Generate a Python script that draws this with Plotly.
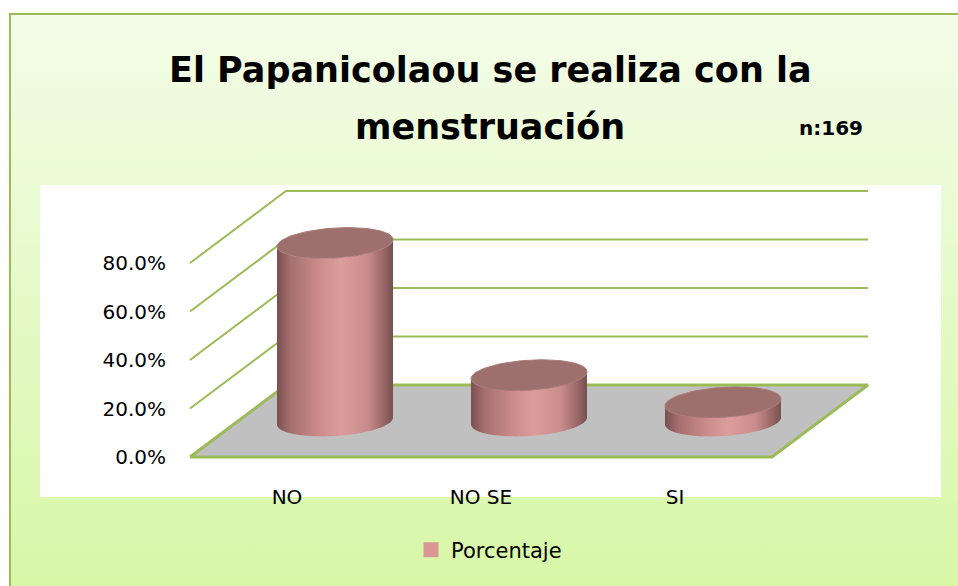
import numpy as np
import plotly.graph_objects as go

# ---- data ----
categories = ["NO", "NO SE", "SI"]
porcentaje = [73.4, 18.9, 7.7]
y_ticks = [0, 20, 40, 60, 80]
y_tick_text = ["0.0%", "20.0%", "40.0%", "60.0%", "80.0%"]
title_line1 = "El Papanicolaou se realiza con la"
title_line2 = "menstruación"
sample_note = "n:169"
series_name = "Porcentaje"

# ---- geometry (screen pixel <-> axis mapping) ----
OFF = 0
W, H = 958, 586
PXU = 194.0      # pixels per category unit
X0PX = 190.0     # screen pixel of x=-0.5 on front plane
PXP = 2.425      # pixels per percent
Y0PX = 457.0     # screen pixel of 0% on front plane


def xr(px):
    return (px - X0PX) / PXU - 0.5


def yr(py):
    return (Y0PX - py) / PXP


def px_paper(px):
    return (px - OFF) / W


def py_paper(py):
    return 1 - (py - OFF) / H


DX = 96 / PXU    # depth offset in x units
DY = 72 / PXP    # depth offset in percent units
GREEN = "#9bbb59"
FONT = "DejaVu Sans"

fig = go.Figure()

# background frame with vertical gradient
fig.add_trace(go.Scatter(
    x=[xr(10), xr(990), xr(990), xr(10), xr(10)],
    y=[yr(14), yr(14), yr(620), yr(620), yr(14)],
    fill="toself", mode="none",
    fillgradient=dict(type="vertical",
                      colorscale=[[0, "#d6f7a3"], [1, "#f3fce8"]]),
    hoverinfo="skip", showlegend=False))
# frame border (top and left visible)
fig.add_trace(go.Scatter(
    x=[xr(10), xr(10), xr(990)],
    y=[yr(620), yr(14), yr(14)],
    mode="lines", line=dict(color=GREEN, width=2),
    hoverinfo="skip", showlegend=False))

# white plot area
fig.add_trace(go.Scatter(
    x=[xr(40), xr(941), xr(941), xr(40), xr(40)],
    y=[yr(185), yr(185), yr(497), yr(497), yr(185)],
    fill="toself", mode="none", fillcolor="white",
    hoverinfo="skip", showlegend=False))

# gridlines: left wall diagonals + back wall horizontals
n = len(categories)
gx, gy = [], []
for v in y_ticks[1:]:
    gx += [-0.5, -0.5 + DX, n - 0.5 + DX, None]
    gy += [v, v + DY, v + DY, None]
fig.add_trace(go.Scatter(x=gx, y=gy, mode="lines",
                         line=dict(color=GREEN, width=2),
                         hoverinfo="skip", showlegend=False))

# floor
fig.add_trace(go.Scatter(
    x=[-0.5, n - 0.5, n - 0.5 + DX, -0.5 + DX, -0.5],
    y=[0, 0, DY, DY, 0],
    fill="toself", mode="lines", fillcolor="#c0c0c0",
    line=dict(color=GREEN, width=3),
    hoverinfo="skip", showlegend=False))

# cylinders
A = 58 / PXU
B = 15 / PXP
K = 3.5 / PXP
body_scale = [[0, "#7a5050"], [0.12, "#a76f6f"], [0.35, "#c98a8a"],
              [0.55, "#dd9d9d"], [0.78, "#c98b8b"], [0.92, "#9a6666"],
              [1, "#765050"]]
for i, v in enumerate(porcentaje):
    xc = i + DX / 2
    yb = DY / 2
    yt = v + DY / 2
    t_low = np.linspace(np.pi, 2 * np.pi, 60)
    bx = xc + A * np.cos(t_low)
    by = yb + B * np.sin(t_low) + K * np.cos(t_low)
    t_back = np.linspace(2 * np.pi, np.pi, 60)
    tx = xc + A * np.cos(t_back)
    ty = yt + B * np.sin(t_back) + K * np.cos(t_back)
    px_ = np.concatenate([bx, tx, bx[:1]])
    py_ = np.concatenate([by, ty, by[:1]])
    fig.add_trace(go.Scatter(
        x=px_, y=py_, fill="toself", mode="none",
        fillgradient=dict(type="horizontal", colorscale=body_scale),
        hoverinfo="skip", showlegend=False))
    t = np.linspace(0, 2 * np.pi, 120)
    fig.add_trace(go.Scatter(
        x=xc + A * np.cos(t), y=yt + B * np.sin(t) + K * np.cos(t),
        fill="toself", mode="lines", fillcolor="#9d6f6d",
        line=dict(width=1, color="#a97a78"),
        hoverinfo="skip", showlegend=False))

# legend entry
fig.add_trace(go.Scatter(
    x=[None], y=[None], mode="markers", name=series_name,
    marker=dict(symbol="square", size=15, color="#d99694")))

# titles
fig.add_annotation(text=title_line1, x=px_paper(490), y=py_paper(70),
                   xref="paper", yref="paper", showarrow=False,
                   xanchor="center", yanchor="middle",
                   font=dict(family=FONT, size=35, color="black", weight="bold"))
fig.add_annotation(text=title_line2, x=px_paper(490), y=py_paper(127),
                   xref="paper", yref="paper", showarrow=False,
                   xanchor="center", yanchor="middle",
                   font=dict(family=FONT, size=35, color="black", weight="bold"))
fig.add_annotation(text=sample_note, x=px_paper(831), y=py_paper(128),
                   xref="paper", yref="paper", showarrow=False,
                   xanchor="center", yanchor="middle",
                   font=dict(family=FONT, size=20, color="black", weight="bold"))

fig.update_layout(
    width=W, height=H, autosize=False,
    margin=dict(l=0, r=0, t=0, b=0, pad=0),
    paper_bgcolor="white", plot_bgcolor="white",
    showlegend=True, hovermode=False,
    legend=dict(x=px_paper(411), y=py_paper(550), xanchor="left",
                yanchor="middle", bgcolor="rgba(0,0,0,0)", borderwidth=0,
                font=dict(family=FONT, size=21, color="black")),
    xaxis=dict(domain=[0, 1], range=[xr(OFF), xr(W + OFF)], anchor="free",
               position=py_paper(Y0PX), tickvals=list(range(n)),
               ticktext=categories, showgrid=False, zeroline=False,
               showline=False, ticks="outside", ticklen=22,
               tickcolor="rgba(0,0,0,0)",
               tickfont=dict(family=FONT, size=20, color="black")),
    yaxis=dict(domain=[0, 1], range=[yr(H + OFF), yr(OFF)], anchor="free",
               position=px_paper(X0PX), tickvals=y_ticks,
               ticktext=y_tick_text, showgrid=False, zeroline=False,
               showline=False, ticks="outside", ticklen=20,
               tickcolor="rgba(0,0,0,0)",
               tickfont=dict(family=FONT, size=20, color="black")),
)

fig.write_html(
    "out.html",
    config={"displayModeBar": False, "staticPlot": True},
    post_script="document.body.style.margin='0';"
                "document.body.style.overflow='hidden';")
